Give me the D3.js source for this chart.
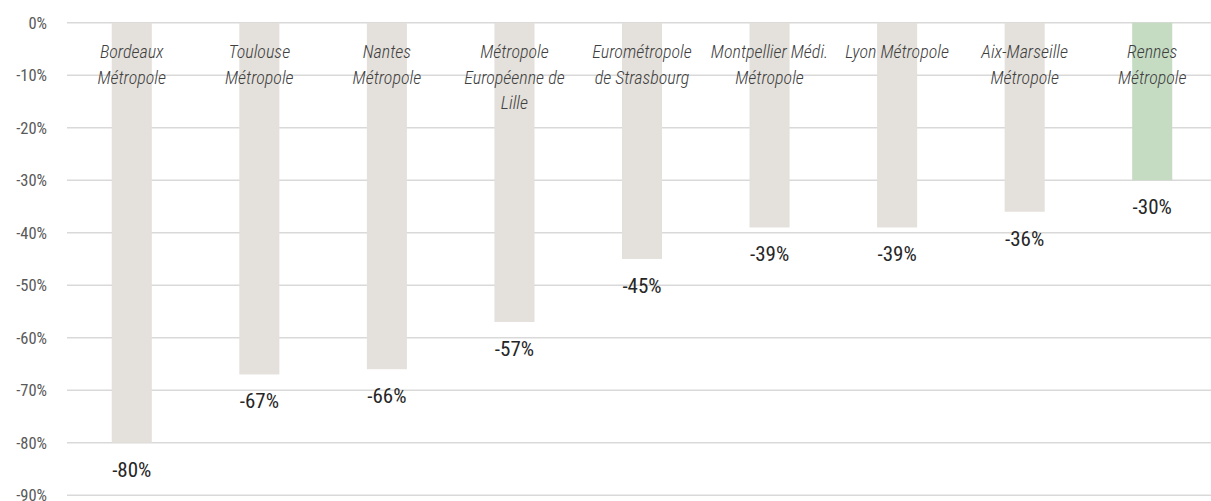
<!DOCTYPE html>
<html>
<head>
<meta charset="utf-8">
<script src="https://cdn.jsdelivr.net/npm/d3@7"></script>
<style>
  html, body { margin: 0; padding: 0; background: #fff; }
  svg { display: block; }
  .cond { font-family: "Roboto Condensed", "Liberation Sans Narrow", Roboto, sans-serif; font-stretch: condensed; }
</style>
</head>
<body>
<svg id="chart" width="1211" height="501"></svg>
<script>
const categories = [
  ["Bordeaux", "Métropole"],
  ["Toulouse", "Métropole"],
  ["Nantes", "Métropole"],
  ["Métropole", "Européenne de", "Lille"],
  ["Eurométropole", "de Strasbourg"],
  ["Montpellier Médi.", "Métropole"],
  ["Lyon Métropole"],
  ["Aix-Marseille", "Métropole"],
  ["Rennes", "Métropole"]
];
const values = [-80, -67, -66, -57, -45, -39, -39, -36, -30];
const highlight = [false, false, false, false, false, false, false, false, true];
const yTicks = [0, -10, -20, -30, -40, -50, -60, -70, -80, -90];

const W = 1211, H = 501;
const svg = d3.select("#chart");

const ids = categories.map((c, i) => i);
const x = d3.scaleBand().domain(ids).range([68, 1216]).paddingInner(0.686).paddingOuter(0.343);
const y = d3.scaleLinear().domain([-90, 0]).range([495.2, 22.7]);

// gridlines
svg.append("g").selectAll("line").data(yTicks).join("line")
  .attr("x1", 67).attr("x2", W)
  .attr("y1", d => y(d)).attr("y2", d => y(d))
  .attr("stroke", "#d9d9d9").attr("stroke-width", 1.5);

// y tick labels
svg.append("g").attr("class", "cond").selectAll("text").data(yTicks).join("text")
  .attr("x", 47).attr("y", d => y(d))
  .attr("dy", "0.36em")
  .attr("text-anchor", "end")
  .attr("font-size", 16.5)
  .attr("fill", "#595959")
  .text(d => d + "%");

// bars
svg.append("g").selectAll("rect").data(values).join("rect")
  .attr("x", (d, i) => x(i))
  .attr("width", x.bandwidth())
  .attr("y", y(0))
  .attr("height", d => y(d) - y(0))
  .attr("fill", (d, i) => highlight[i] ? "#c5dcc3" : "#e4e0db");

// category labels
const cat = svg.append("g").attr("class", "cond");
categories.forEach((lines, i) => {
  const t = cat.append("text")
    .attr("text-anchor", "middle")
    .attr("font-size", 18)
    .attr("font-style", "italic")
    .attr("font-weight", 300)
    .attr("fill", "#404040");
  lines.forEach((ln, j) => {
    t.append("tspan")
      .attr("x", x(i) + x.bandwidth() / 2)
      .attr("y", 58 + j * 25.5)
      .text(ln);
  });
});

// value labels
svg.append("g").attr("class", "cond").selectAll("text").data(values).join("text")
  .attr("x", (d, i) => x(i) + x.bandwidth() / 2)
  .attr("y", d => y(d) + 34)
  .attr("text-anchor", "middle")
  .attr("font-size", 21)
  .attr("fill", "#262626")
  .text(d => d + "%");
</script>
</body>
</html>
